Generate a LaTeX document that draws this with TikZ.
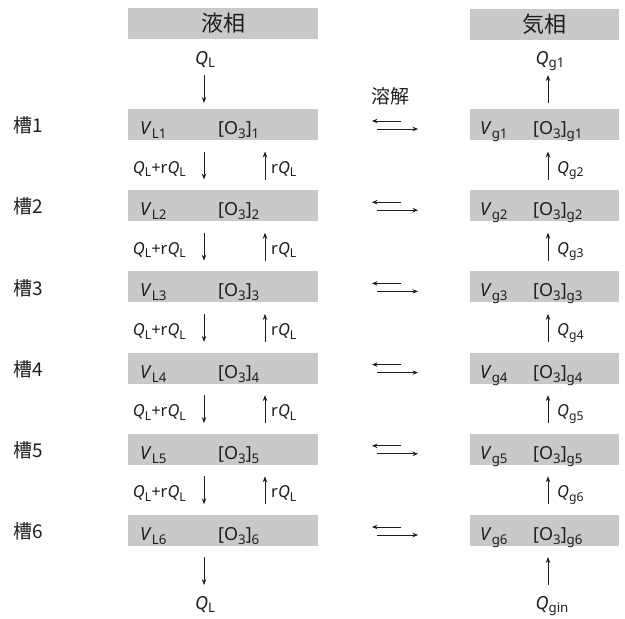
\documentclass[tikz,border=0pt]{standalone}
\usepackage{fontspec}
\setmainfont{Noto Sans}
\newfontfamily\cjk{Noto Sans CJK JP}
\usetikzlibrary{arrows.meta}
\definecolor{boxgray}{RGB}{201,201,201}
\definecolor{ink}{RGB}{30,30,30}
\newcommand\lsub[1]{\raisebox{-0.22em}{\scalebox{0.74}{#1}}}
\newcommand\qq[1]{\textit{Q}\lsub{#1}}
\begin{document}
\begin{tikzpicture}[x=1pt,y=-1pt,
  box/.style={fill=boxgray,draw=none,minimum height=31pt,inner sep=0pt},
  lbox/.style={box,minimum width=190pt},
  gbox/.style={box,minimum width=149pt},
  hdr/.style={font=\fontsize{22}{22}\selectfont\cjk,text=ink},
  cjkl/.style={font=\fontsize{19}{19}\selectfont\cjk,text=ink,inner sep=0pt},
  big/.style={font=\fontsize{18}{18}\selectfont,text=ink,inner sep=0pt},
  small/.style={font=\fontsize{16.5}{16.5}\selectfont,text=ink,inner sep=0pt},
  arr/.style={draw=ink,line width=0.9pt,-{Stealth[length=6pt,width=4.5pt]}},
  harr/.style={draw=ink,line width=0.9pt,-{Stealth[length=5.5pt,width=4.5pt]}}]
\useasboundingbox (0,0) rectangle (625,619);
% headers
\node[lbox] (L0) at (223,23.5) {};
\node[hdr] (L0t) at (L0.center) {液相};
\node[gbox] (G0) at (544.5,24) {};
\node[hdr] (G0t) at (G0.center) {気相};
% top flows
\node[big,anchor=base] (QLin) at (205,64) {\qq{L}};
\coordinate (qla) at (204,75);
\coordinate (qlb) at (204,103);
\draw[arr] (qla) -- (qlb);
\node[big,anchor=base] (Qg1) at (550,64) {\qq{g1}};
\coordinate (qga) at (548,103);
\coordinate (qgb) at (548,75);
\draw[arr] (qga) -- (qgb);
\node[cjkl] (diss) at (390,96) {溶解};
\foreach \k in {1,...,6}{
  \pgfmathsetmacro\y{124.5+81.2*(\k-1)}
  \node[lbox] (L\k) at (223,\y) {};
  \node[gbox] (G\k) at (544.5,\y) {};
  \node[cjkl,anchor=west] (T\k) at (13,\y+1) {槽\k};
  \node[big,anchor=base west] (VL\k) at (140,\y+10) {\textit{V}\lsub{L\k}};
  \node[big,anchor=base west] (OL\k) at (218,\y+10) {[O\lsub{3}]\lsub{\k}};
  \node[big,anchor=base west] (VG\k) at (480,\y+10) {\textit{V}\lsub{g\k}};
  \node[big,anchor=base west] (OG\k) at (533,\y+10) {[O\lsub{3}]\lsub{g\k}};
  \coordinate (ea\k) at (401,\y-3.5);
  \coordinate (eb\k) at (372,\y-3.5);
  \coordinate (ec\k) at (377,\y+4.5);
  \coordinate (ed\k) at (418,\y+4.5);
  \draw[harr] (ea\k) -- (eb\k);
  \draw[harr] (ec\k) -- (ed\k);
}
\foreach \k in {1,...,5}{
  \pgfmathsetmacro\y{124.5+81.2*(\k-1)}
  \pgfmathtruncatemacro\n{\k+1}
  \coordinate (da\k) at (204,\y+27);
  \coordinate (db\k) at (204,\y+55);
  \draw[arr] (da\k) -- (db\k);
  \coordinate (ua\k) at (265,\y+55);
  \coordinate (ub\k) at (265,\y+27);
  \draw[arr] (ua\k) -- (ub\k);
  \coordinate (ga\k) at (548,\y+55);
  \coordinate (gb\k) at (548,\y+27);
  \draw[arr] (ga\k) -- (gb\k);
  \node[small,anchor=base east] (lq\k) at (186,\y+48.5) {\qq{L}+r\qq{L}};
  \node[small,anchor=base west] (rq\k) at (271,\y+48.5) {r\qq{L}};
  \node[small,anchor=base west] (gq\k) at (557,\y+48.5) {\qq{g\n}};
}
% bottom flows
\coordinate (bla) at (204,557);
\coordinate (blb) at (204,585);
\draw[arr] (bla) -- (blb);
\node[big,anchor=base] (QLout) at (205,609) {\qq{L}};
\coordinate (bga) at (548,585);
\coordinate (bgb) at (548,557);
\draw[arr] (bga) -- (bgb);
\node[big,anchor=base] (Qgin) at (552,609) {\qq{gin}};
\end{tikzpicture}
\end{document}
